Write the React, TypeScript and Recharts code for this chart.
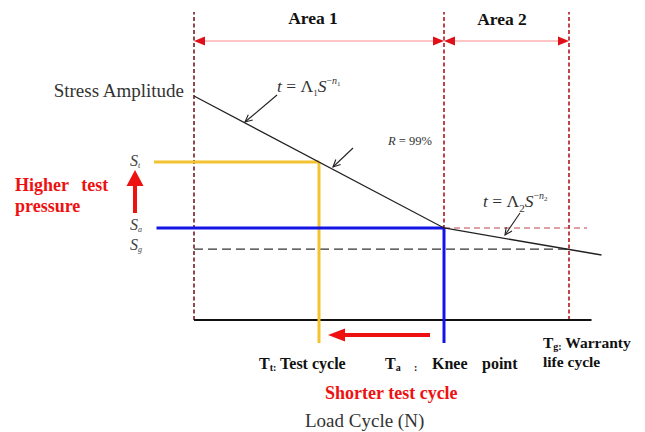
import { ComposedChart, Line, XAxis, YAxis, ReferenceLine } from 'recharts';

// load cycle (arbitrary units) and stress amplitude (arbitrary units)
const curveCycles = [0, 10, 16.3];
const curveStress = [56, 23, 16.25];

// T_t, T_a, T_g
const cycleMarks = [5, 10, 15];
// S_t, S_a, S_g
const stressLevels = [39.5, 23, 17.7];

const axisEnd = 15.9;
const areaTop = 77;
const areaArrowY = 69.75;
const labelStart = -1.6;
const dropBottom = -5.75;
const redDashEnd = 15.72;
const upArrow = [26.75, 37.5];
const leftArrow = [9.44, 5.36];
const leftArrowY = -3.75;

const curveData = curveCycles.map((n, i) => ({ n, s: curveStress[i] }));

const [Tt, Ta, Tg] = cycleMarks;
const [St, Sa, Sg] = stressLevels;

const SERIF = '"Liberation Serif", "DejaVu Serif", serif';

// line with arrow heads drawn by hand
const arrowShape =
  (color: string, width: number, headLen: number, headW: number, both: boolean, lineColor?: string) =>
  (p: any) => {
    const { x1, y1, x2, y2 } = p;
    const dx = x2 - x1;
    const dy = y2 - y1;
    const len = Math.sqrt(dx * dx + dy * dy) || 1;
    const ux = dx / len;
    const uy = dy / len;
    const head = (tx: number, ty: number, sx: number, sy: number) => {
      const bx = tx - sx * headLen;
      const by = ty - sy * headLen;
      const px = -sy * headW / 2;
      const py = sx * headW / 2;
      return `${tx},${ty} ${bx + px},${by + py} ${bx - px},${by - py}`;
    };
    return (
      <g>
        <line
          x1={both ? x1 + ux * headLen * 0.8 : x1}
          y1={both ? y1 + uy * headLen * 0.8 : y1}
          x2={x2 - ux * headLen * 0.8}
          y2={y2 - uy * headLen * 0.8}
          stroke={lineColor || color}
          strokeWidth={width}
        />
        <polygon points={head(x2, y2, ux, uy)} fill={color} />
        {both && <polygon points={head(x1, y1, -ux, -uy)} fill={color} />}
      </g>
    );
  };

const thinArrow = (p: any) => {
  const { x1, y1, x2, y2 } = p;
  const dx = x2 - x1;
  const dy = y2 - y1;
  const len = Math.sqrt(dx * dx + dy * dy) || 1;
  const ux = dx / len;
  const uy = dy / len;
  const h = 8;
  const a = 0.45;
  const c = Math.cos(a);
  const s = Math.sin(a);
  const w1x = x2 - h * (ux * c - uy * s);
  const w1y = y2 - h * (uy * c + ux * s);
  const w2x = x2 - h * (ux * c + uy * s);
  const w2y = y2 - h * (uy * c - ux * s);
  return (
    <g stroke="#222" strokeWidth={1.1} fill="none">
      <line x1={x1} y1={y1} x2={x2} y2={y2} />
      <polyline points={`${w1x},${w1y} ${x2},${y2} ${w2x},${w2y}`} />
    </g>
  );
};

const T = (props: any) => <text {...props} style={{ fontFamily: SERIF }} />;

export default function App() {
  return (
    <div style={{ position: 'absolute', left: 0, top: 0, background: '#fff' }}>
      <ComposedChart
        width={645}
        height={432}
        data={curveData}
        margin={{ top: 0, right: 0, bottom: 0, left: 0 }}
      >
        <XAxis type="number" dataKey="n" domain={[-7.76, 18.04]} allowDataOverflow hide />
        <YAxis type="number" domain={[-28, 80]} allowDataOverflow hide />

        {/* area boundaries */}
        {[0, Ta, Tg].map((x, i) => (
          <ReferenceLine
            key={`v-${i}`}
            segment={[{ x, y: 0 }, { x, y: areaTop }]}
            stroke={i === 0 ? '#8e4a4f' : '#c0444a'}
            strokeWidth={2}
            strokeDasharray="4 2.5"
          />
        ))}
        <ReferenceLine
          segment={[{ x: 0, y: areaArrowY }, { x: Ta, y: areaArrowY }]}
          shape={arrowShape('#e0101a', 1.2, 11, 9, true, '#ff8a8a')}
        />
        <ReferenceLine
          segment={[{ x: Ta, y: areaArrowY }, { x: Tg, y: areaArrowY }]}
          shape={arrowShape('#e0101a', 1.2, 11, 9, true, '#ff8a8a')}
        />

        {/* S_g level */}
        <ReferenceLine
          segment={[{ x: 0, y: Sg }, { x: Tg, y: Sg }]}
          stroke="#333"
          strokeWidth={1.3}
          strokeDasharray="9 5"
        />
        {/* knee level extension */}
        <ReferenceLine
          segment={[{ x: Ta, y: Sa }, { x: redDashEnd, y: Sa }]}
          stroke="#c0444a"
          strokeWidth={1.2}
          strokeDasharray="6 4"
        />

        {/* load cycle axis */}
        <ReferenceLine segment={[{ x: 0, y: 0 }, { x: axisEnd, y: 0 }]} stroke="#111" strokeWidth={2} />

        {/* test stress */}
        <ReferenceLine segment={[{ x: labelStart, y: St }, { x: Tt, y: St }]} stroke="#f2c230" strokeWidth={3} />
        <ReferenceLine segment={[{ x: Tt, y: St }, { x: Tt, y: dropBottom }]} stroke="#f2c230" strokeWidth={3} />
        {/* knee stress */}
        <ReferenceLine segment={[{ x: labelStart + 0.1, y: Sa }, { x: Ta, y: Sa }]} stroke="#1414e6" strokeWidth={3} />
        <ReferenceLine segment={[{ x: Ta, y: Sa }, { x: Ta, y: dropBottom }]} stroke="#1414e6" strokeWidth={3} />

        <Line
          dataKey="s"
          type="linear"
          stroke="#222"
          strokeWidth={1.3}
          dot={false}
          activeDot={false}
          isAnimationActive={false}
        />

        {/* red arrows */}
        <ReferenceLine
          segment={[{ x: -2.36, y: upArrow[0] }, { x: -2.36, y: upArrow[1] }]}
          shape={arrowShape('#ee1111', 4, 16, 17, false)}
        />
        <ReferenceLine
          segment={[{ x: leftArrow[0], y: leftArrowY }, { x: leftArrow[1], y: leftArrowY }]}
          shape={arrowShape('#ee1111', 4, 17, 13, false)}
        />

        {/* pointer arrows */}
        <ReferenceLine segment={[{ x: 3.32, y: 56.25 }, { x: 2.04, y: 49.5 }]} shape={thinArrow} />
        <ReferenceLine segment={[{ x: 6.36, y: 43 }, { x: 5.56, y: 38.25 }]} shape={thinArrow} />
        <ReferenceLine segment={[{ x: 13.04, y: 26.75 }, { x: 12.44, y: 21.25 }]} shape={thinArrow} />

        <g>
          <T x={313} y={24} textAnchor="middle" fontSize={17.5} fontWeight="bold" fill="#111">Area 1</T>
          <T x={502} y={25} textAnchor="middle" fontSize={17.5} fontWeight="bold" fill="#111">Area 2</T>

          <T x={184} y={97} textAnchor="end" fontSize={19} fill="#333">Stress Amplitude</T>

          <T x={277} y={92} fontSize={17.5} fill="#333">
            <tspan fontStyle="italic">t</tspan>
            <tspan> = Λ</tspan>
            <tspan fontSize={9} dy={4}>1</tspan>
            <tspan fontStyle="italic" dy={-4}>S</tspan>
            <tspan fontSize={10} dy={-8}>−</tspan>
            <tspan fontSize={10} fontStyle="italic">n</tspan>
            <tspan fontSize={7} dy={2}>1</tspan>
          </T>

          <T x={388} y={145} fontSize={12.5} fill="#333">
            <tspan fontStyle="italic">R</tspan> = 99%
          </T>

          <T x={483} y={207} fontSize={17.5} fill="#333">
            <tspan fontStyle="italic">t</tspan>
            <tspan> = Λ</tspan>
            <tspan fontSize={11} dy={5}>2</tspan>
            <tspan fontStyle="italic" dy={-5}>S</tspan>
            <tspan fontSize={10} dy={-8}>−</tspan>
            <tspan fontSize={10} fontStyle="italic">n</tspan>
            <tspan fontSize={7} dy={2}>2</tspan>
          </T>

          <T x={130} y={166} fontSize={16} fontStyle="italic" fill="#444">
            S<tspan fontSize={8} dy={2}>t</tspan>
          </T>
          <T x={130} y={230} fontSize={16} fontStyle="italic" fill="#444">
            S<tspan fontSize={8} dy={2}>a</tspan>
          </T>
          <T x={130} y={250} fontSize={16} fontStyle="italic" fill="#444">
            S<tspan fontSize={8} dy={2}>g</tspan>
          </T>

          <T x={15} y={191} fontSize={18} fontWeight="bold" fill="#ee1111" wordSpacing={8}>Higher test</T>
          <T x={15} y={212} fontSize={18} fontWeight="bold" fill="#ee1111">pressure</T>

          <T x={259} y={369} fontSize={16} fontWeight="bold" fill="#111">
            T<tspan fontSize={10} dy={2}>t</tspan>
            <tspan fontSize={10} dy={0}>:</tspan>
            <tspan dy={-2}> Test cycle</tspan>
          </T>
          <T x={385} y={369} fontSize={16} fontWeight="bold" fill="#111">
            T<tspan fontSize={10} dy={2}>a</tspan>
          </T>
          <T x={414} y={371} fontSize={10} fontWeight="bold" fill="#111">:</T>
          <T x={432} y={369} fontSize={16} fontWeight="bold" fill="#111">Knee</T>
          <T x={482} y={369} fontSize={16} fontWeight="bold" fill="#111">point</T>

          <T x={543} y={348} fontSize={15.5} fontWeight="bold" fill="#111">
            T<tspan fontSize={10} dy={2}>g</tspan>
            <tspan fontSize={10}>:</tspan>
            <tspan dy={-2}> Warranty</tspan>
          </T>
          <T x={543} y={367} fontSize={15.5} fontWeight="bold" fill="#111">life cycle</T>

          <T x={325} y={399} fontSize={18} fontWeight="bold" fill="#ee1111">Shorter test cycle</T>
          <T x={305} y={427} fontSize={19} fill="#333">Load Cycle (N)</T>
        </g>
      </ComposedChart>
    </div>
  );
}
